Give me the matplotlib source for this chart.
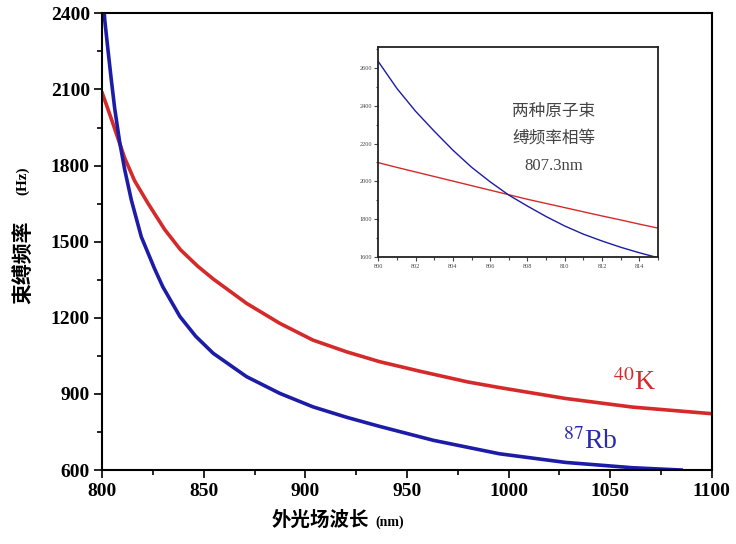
import matplotlib
matplotlib.use("Agg")
import matplotlib.pyplot as plt
from matplotlib.ticker import MultipleLocator

# ---- main chart data (wavelength nm, trap frequency Hz) ----
k_wl = [800, 802, 804.4, 807.5, 811, 815.9, 822.5, 830.7, 838.5, 847, 854.6,
        871, 887.4, 903.7, 920.2, 936.5, 956, 980, 995.5, 1028, 1061, 1100]
k_freq = [2085, 2040, 1985, 1912, 1830, 1740, 1651, 1548, 1468, 1403, 1353,
          1257, 1178, 1112, 1066, 1027, 990, 947, 925, 882, 848, 822]

rb_wl = [800, 801.2, 802.8, 804.4, 806.1, 808.5, 811, 814.3, 819.2, 825.8,
         829.8, 838.2, 846, 854.6, 871, 887.4, 903.7, 920.2, 936.5, 963,
         995.5, 1028, 1061, 1085]
rb_freq = [2520, 2374, 2255, 2140, 2025, 1895, 1785, 1664, 1519, 1392,
           1322, 1205, 1127, 1060, 968, 902, 849, 808, 772, 717,
           664, 630, 609, 600]

x_ticks = [800, 850, 900, 950, 1000, 1050, 1100]
y_ticks = [600, 900, 1200, 1500, 1800, 2100, 2400]

# ---- inset data ----
in_wl = [800, 801, 802, 803, 804, 805, 806, 807, 808, 809, 810, 811, 812,
         813, 814, 815]
in_k = [2099, 2074, 2050, 2026, 2002, 1978, 1954, 1930, 1906, 1884, 1862,
        1840, 1818, 1797, 1775, 1754]
in_rb = [2632, 2490, 2370, 2265, 2165, 2075, 1998, 1928, 1870, 1815, 1765,
         1722, 1686, 1653, 1624, 1598]
in_x_ticks = [800, 802, 804, 806, 808, 810, 812, 814]
in_y_ticks = [1600, 1800, 2000, 2200, 2400, 2600]

RED = "#d42a2a"
BLUE = "#1c1ca6"
SERIF = ["Liberation Serif", "DejaVu Serif"]
CJK = ["Noto Sans CJK SC", "DejaVu Sans"]

fig = plt.figure(figsize=(7.36, 5.44), dpi=100)
ax = fig.add_axes([0.139, 0.136, 0.828, 0.8395])

ax.plot(k_wl, k_freq, color=RED, lw=2.6, solid_joinstyle="round")
ax.plot(rb_wl, rb_freq, color=BLUE, lw=2.6, solid_joinstyle="round")

ax.set_xlim(800, 1100)
ax.set_ylim(600, 2400)
ax.set_xticks(x_ticks)
ax.set_yticks(y_ticks)
ax.xaxis.set_minor_locator(MultipleLocator(25))
ax.yaxis.set_minor_locator(MultipleLocator(150))
ax.tick_params(which="both", direction="out", top=False, right=False, width=1.2)
ax.tick_params(which="major", length=6, labelsize=14, pad=3)
ax.tick_params(which="minor", length=3.5)
for lab in ax.get_xticklabels() + ax.get_yticklabels():
    lab.set_fontfamily(SERIF)
    lab.set_fontweight("bold")
for sp in ax.spines.values():
    sp.set_linewidth(1.5)

# axis labels
fig.text(0.031, 0.518, "束缚频率", rotation=90, ha="center", va="center",
         fontsize=15, fontweight="bold", family=CJK)
fig.text(0.031, 0.668, "(Hz)", rotation=90, ha="center", va="center",
         fontsize=11, fontweight="bold", family=SERIF)
fig.text(0.435, 0.043, "外光场波长", ha="center", va="center",
         fontsize=14, fontweight="bold", family=CJK)
fig.text(0.530, 0.040, "(nm)", ha="center", va="center",
         fontsize=10, fontweight="bold", family=SERIF)

# series labels
ax.text(1062, 945, r"$^{40}$K", color=RED, fontsize=20, family=SERIF,
        ha="center", va="center", math_fontfamily="stix")
ax.text(1040, 712, r"$^{87}$Rb", color="#2a2ab0", fontsize=20, family=SERIF,
        ha="center", va="center", math_fontfamily="stix")

# ---- inset ----
axi = fig.add_axes([0.514, 0.527, 0.380, 0.387])
axi.plot(in_wl, in_k, color=RED, lw=1.0)
axi.plot(in_wl, in_rb, color=BLUE, lw=1.0)
axi.set_xlim(800, 815)
axi.set_ylim(1600, 2710)
axi.set_xticks(in_x_ticks)
axi.set_yticks(in_y_ticks)
axi.xaxis.set_minor_locator(MultipleLocator(1))
axi.yaxis.set_minor_locator(MultipleLocator(100))
axi.tick_params(which="both", direction="out", top=False, right=False,
                labelsize=4.5, width=0.8, pad=1.5, colors="#444444")
axi.tick_params(which="major", length=3)
axi.tick_params(which="minor", length=1.8)
for lab in axi.get_xticklabels() + axi.get_yticklabels():
    lab.set_fontfamily(SERIF)
for sp in axi.spines.values():
    sp.set_linewidth(1.3)
    sp.set_color("#222222")

axi.text(809.4, 2370, "两种原子束", ha="center", va="center", fontsize=12,
         family=CJK, color="#444444")
axi.text(809.4, 2230, "缚频率相等", ha="center", va="center", fontsize=12,
         family=CJK, color="#444444")
axi.text(809.4, 2080, "807.3nm", ha="center", va="center", fontsize=12,
         family=SERIF, color="#444444")

fig.savefig("out.png", dpi=100)
